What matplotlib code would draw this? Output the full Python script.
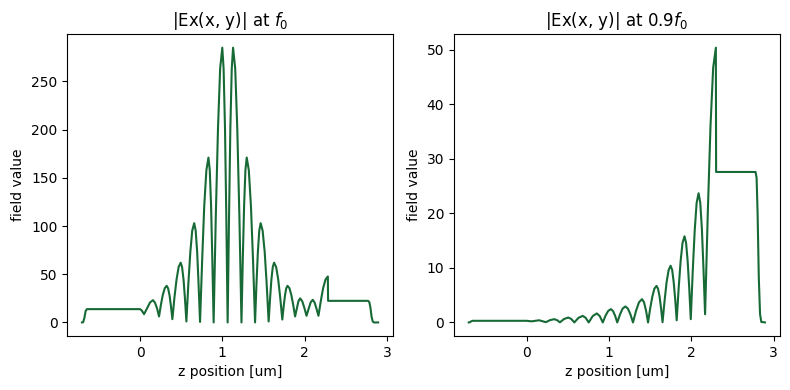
import matplotlib
matplotlib.use('Agg')
import matplotlib.pyplot as plt

# Valores: |Ex| a lo largo de z, a f0
z_f0 = [-0.705, -0.69, -0.675, -0.66, -0.645, 0.0,
        0.02, 0.049, 0.085, 0.122, 0.158, 0.182, 0.207, 0.231,
        0.254, 0.277, 0.301, 0.324, 0.341, 0.359, 0.376, 0.393,
        0.418, 0.444, 0.469, 0.494, 0.511, 0.529, 0.546, 0.563,
        0.587, 0.611, 0.634, 0.658, 0.676, 0.694, 0.711, 0.729,
        0.755, 0.780, 0.806, 0.831, 0.847, 0.863, 0.878, 0.894,
        0.920, 0.947, 0.973, 0.999, 1.015, 1.032, 1.048, 1.064,
        1.081, 1.097, 1.114, 1.130, 1.156, 1.181, 1.207, 1.232,
        1.248, 1.264, 1.280, 1.296, 1.321, 1.347, 1.372, 1.397,
        1.414, 1.431, 1.448, 1.465, 1.489, 1.514, 1.538, 1.562,
        1.579, 1.595, 1.612, 1.628, 1.653, 1.678, 1.703, 1.728,
        1.744, 1.760, 1.775, 1.791, 1.814, 1.837, 1.860, 1.883,
        1.903, 1.924, 1.944, 1.970, 1.996, 2.022,
        2.047, 2.073, 2.098, 2.121, 2.144, 2.167,
        2.196, 2.224, 2.253, 2.281, 2.284,
        2.770, 2.785, 2.797, 2.812, 2.826, 2.840, 2.892]
e_f0 = [0.0, 0.3, 5.0, 12.0, 13.8, 13.8,
        12.5, 8.6, 14.5, 20.8, 23.1, 20.5, 14.5, 6.2,
        18.4, 28.7, 35.6, 38.0, 35.4, 27.9, 16.6, 3.4,
        25.8, 44.8, 57.5, 62.0, 57.4, 44.1, 24.4, 1.0,
        40.1, 73.1, 95.2, 103.0, 95.2, 73.0, 39.8, 0.5,
        65.5, 120.9, 158.0, 171.0, 158.0, 120.9, 65.5, 0.0,
        109.2, 201.5, 263.3, 285.0, 263.3, 201.5, 109.2, 0.0,
        109.2, 201.5, 263.3, 285.0, 263.3, 201.5, 109.2, 0.0,
        65.5, 120.9, 158.0, 171.0, 158.0, 120.9, 65.5, 0.0,
        39.4, 72.8, 95.2, 103.0, 95.2, 73.1, 40.1, 1.0,
        24.4, 44.1, 57.4, 62.0, 57.5, 44.7, 25.4, 3.0,
        16.4, 27.7, 35.3, 38.0, 35.6, 28.7, 18.4, 6.2,
        14.0, 22.0, 25.0, 22.0, 15.0, 6.9,
        14.0, 21.0, 23.5, 20.5, 14.0, 6.9,
        22.5, 35.7, 44.6, 47.7, 22.4,
        22.4, 21.0, 16.0, 6.0, 1.0, 0.0, 0.0]

# |Ex| a 0.9 f0
z_09 = [-0.705, -0.69, -0.675, -0.66, 0.0, 0.06, 0.15, 0.232,
        0.283, 0.334, 0.368, 0.403,
        0.454, 0.505, 0.541, 0.578,
        0.629, 0.680, 0.716, 0.753,
        0.802, 0.851, 0.887, 0.924,
        0.957, 0.989, 1.022, 1.048, 1.074, 1.100,
        1.133, 1.165, 1.198, 1.229, 1.260, 1.291,
        1.328, 1.364, 1.401, 1.425, 1.450, 1.474,
        1.500, 1.526, 1.551, 1.577, 1.595, 1.614, 1.632, 1.650,
        1.675, 1.699, 1.724, 1.748, 1.767, 1.785, 1.804, 1.822,
        1.846, 1.870, 1.893, 1.917, 1.936, 1.955, 1.974, 1.993,
        2.017, 2.041, 2.064, 2.088, 2.108, 2.128, 2.147, 2.167,
        2.200, 2.233, 2.265, 2.298, 2.301,
        2.780, 2.793, 2.805, 2.820, 2.835, 2.850, 2.894]
e_09 = [0.0, 0.05, 0.2, 0.3, 0.3, 0.2, 0.4, 0.05,
        0.42, 0.6, 0.42, 0.02,
        0.64, 0.9, 0.64, 0.0,
        0.85, 1.2, 0.85, 0.0,
        1.17, 1.65, 1.17, 0.0,
        1.22, 2.1, 2.44, 2.1, 1.22, 0.0,
        1.47, 2.54, 2.93, 2.54, 1.47, 0.0,
        2.13, 3.7, 4.27, 3.7, 2.13, 0.0,
        2.57, 4.74, 6.19, 6.7, 6.19, 4.74, 2.6, 0.05,
        4.0, 7.35, 9.6, 10.4, 9.64, 7.47, 4.23, 0.4,
        6.3, 11.3, 14.6, 15.8, 14.6, 11.3, 6.4, 0.6,
        9.4, 16.9, 21.9, 23.7, 22.0, 17.2, 10.0, 1.5,
        20.2, 36.1, 46.7, 50.4, 27.6,
        27.6, 26.5, 20.0, 8.0, 1.5, 0.1, 0.0]

color_linea = '#176a36'

fig, (ax1, ax2) = plt.subplots(1, 2, figsize=(7.9, 3.9))

ax1.plot(z_f0, e_f0, color=color_linea, linewidth=1.5)
ax1.set_title('|Ex(x, y)| at $f_0$')
ax1.set_xlabel('z position [um]')
ax1.set_ylabel('field value')

ax2.plot(z_09, e_09, color=color_linea, linewidth=1.5)
ax2.set_title('|Ex(x, y)| at $0.9f_0$')
ax2.set_xlabel('z position [um]')
ax2.set_ylabel('field value')

# Márgenes ajustados a mano para parecerse al original
plt.subplots_adjust(left=0.085, right=0.987, bottom=0.138, top=0.913, wspace=0.187)
plt.savefig('out.png', dpi=100)
